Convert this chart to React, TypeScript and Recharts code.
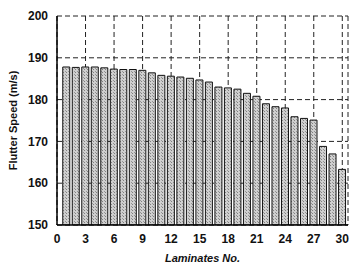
import React from 'react';
import { BarChart, Bar, XAxis, YAxis, CartesianGrid } from 'recharts';

const laminates = [
  1, 2, 3, 4, 5, 6, 7, 8, 9, 10, 11, 12, 13, 14, 15,
  16, 17, 18, 19, 20, 21, 22, 23, 24, 25, 26, 27, 28, 29, 30,
];
const flutterSpeed = [
  187.8, 187.7, 187.8, 187.8, 187.6, 187.3, 187.2, 187.2, 187.0, 186.4,
  185.8, 185.6, 185.4, 185.1, 184.7, 184.2, 183.0, 182.8, 182.5, 181.5,
  180.8, 179.0, 178.3, 178.0, 175.9, 175.5, 175.1, 168.8, 167.0, 163.3,
];
const xTicks = [0, 3, 6, 9, 12, 15, 18, 21, 24, 27, 30];
const yTicks = [150, 160, 170, 180, 190, 200];

const data = laminates.map((n, i) => ({ n, speed: flutterSpeed[i] }));

const tickStyle = { fill: '#111', fontSize: 12, fontWeight: 700, fontFamily: 'Liberation Sans, Arial, sans-serif' };

export default function App() {
  return (
    <div style={{ position: 'absolute', left: 0, top: 0, background: '#fff' }}>
      <BarChart width={350} height={269} data={data} margin={{ top: 16, right: 2, left: 0, bottom: 6 }}>
        <defs>
          <pattern id="hatch" width="3" height="3" patternUnits="userSpaceOnUse">
            <rect width="3" height="3" fill="#cfcfcf" />
            <rect width="1" height="1" fill="#808080" />
            <rect x="2" y="2" width="1" height="1" fill="#959595" />
          </pattern>
        </defs>
        <CartesianGrid stroke="#222" strokeDasharray="5 3" />
        <XAxis
          dataKey="n"
          type="number"
          domain={[0, 30.6]}
          ticks={xTicks}
          allowDataOverflow
          tickLine={false}
          axisLine={{ stroke: '#000', strokeWidth: 1.5 }}
          tick={tickStyle}
          tickMargin={3}
          height={38}
          label={{ value: 'Laminates No.', position: 'insideBottom', offset: 1, style: { ...tickStyle, fontSize: 11, fontStyle: 'italic' } }}
        />
        <XAxis xAxisId="top" orientation="top" dataKey="n" type="number" domain={[0, 30.6]} tick={false} tickLine={false} axisLine={{ stroke: '#000', strokeWidth: 1.5 }} height={0} />
        <YAxis
          domain={[150, 200]}
          ticks={yTicks}
          allowDataOverflow
          tickLine={false}
          axisLine={{ stroke: '#000', strokeWidth: 1.5 }}
          tick={tickStyle}
          tickMargin={3}
          width={57}
          label={{ value: 'Flutter Speed (m/s)', angle: -90, position: 'insideLeft', offset: 13, style: { ...tickStyle, fontSize: 11, textAnchor: 'middle' } }}
        />
        <YAxis yAxisId="right" orientation="right" domain={[150, 200]} tick={false} tickLine={false} axisLine={{ stroke: '#000', strokeWidth: 1.5 }} width={0} />
        <Bar dataKey="speed" barSize={7} fill="url(#hatch)" stroke="#111" strokeWidth={1} isAnimationActive={false} />
      </BarChart>
    </div>
  );
}
